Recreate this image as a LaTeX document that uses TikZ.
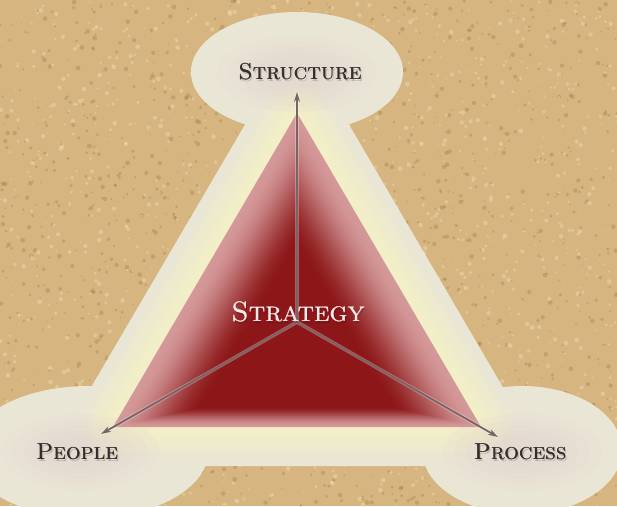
\documentclass[tikz,border=0pt]{standalone}
\usetikzlibrary{arrows.meta,calc}
\definecolor{cork}{RGB}{214,181,128}
\definecolor{corkdark}{RGB}{150,110,60}
\definecolor{corklight}{RGB}{240,222,175}
\definecolor{cream}{RGB}{233,230,214}
\definecolor{glow}{RGB}{248,244,196}
\definecolor{blush}{RGB}{228,212,206}
\definecolor{rose}{RGB}{212,152,152}
\definecolor{wine}{RGB}{140,22,24}
\definecolor{ink}{RGB}{52,46,46}
\definecolor{arrowgray}{RGB}{118,100,102}
\definecolor{stratwhite}{RGB}{244,232,232}
\begin{document}
\begin{tikzpicture}[x=1pt,y=-1pt,
  labeltext/.style={font=\fontsize{23}{27}\selectfont\scshape, text=ink},
  bigtext/.style={font=\fontsize{28}{32}\selectfont\scshape, text=stratwhite},
  shadowtext/.style={font=\fontsize{23}{27}\selectfont\scshape, text=ink, opacity=0.25},
  arrowline/.style={draw=arrowgray, line width=1.8, -{Stealth[length=10,width=6]}},
  arrowhalo/.style={draw=white, opacity=0.3, line width=3.6},
  blob/.style={fill=cream}]
\useasboundingbox (0,0) rectangle (617,506);
\fill[cork] (0,0) rectangle (617,506);
\begin{scope}
\clip (0,0) rectangle (617,506);
\pgfmathsetseed{7}
\foreach \i in {1,...,1400}{
  \pgfmathsetmacro{\xx}{rnd*617}
  \pgfmathsetmacro{\yy}{rnd*506}
  \pgfmathsetmacro{\rr}{0.6+rnd*1.8}
  \fill[corkdark, opacity=0.3] (\xx,\yy) circle[radius=\rr];
}
\foreach \i in {1,...,1400}{
  \pgfmathsetmacro{\xx}{rnd*617}
  \pgfmathsetmacro{\yy}{rnd*506}
  \pgfmathsetmacro{\rr}{0.6+rnd*1.8}
  \fill[corklight, opacity=0.45] (\xx,\yy) circle[radius=\rr];
}
\end{scope}
% triangle corners and hub
\coordinate (A) at (297,113);
\coordinate (B) at (113,427);
\coordinate (C) at (481,427);
\coordinate (O) at (297,385);
\coordinate (hub) at (297,322);
\coordinate (tS) at (297,92);
\coordinate (tL) at (101,434);
\coordinate (tR) at (498,437);
% halo
\fill[blob] (297,72) ellipse[x radius=106, y radius=60];
\fill[blob] (88,452) ellipse[x radius=120, y radius=66];
\fill[blob] (522,450) ellipse[x radius=100, y radius=64];
\draw[cream, fill=cream, line width=78, line join=round] (A)--(B)--(C)--cycle;
\foreach \w in {60,50,40,32,24,16}{
  \draw[glow, opacity=0.18, line width=\w, line join=round] (A)--(B)--(C)--cycle;
}
\foreach \p in {(297,74),(80,452),(522,452)}{
  \foreach \r in {1.0,0.85,0.7,0.55,0.4}{
    \fill[blush, opacity=0.16] \p ellipse[x radius=80*\r, y radius=38*\r];
  }
}
% shaded triangle
\foreach \k in {0,...,60}{
  \pgfmathsetmacro{\t}{\k/60*0.8}
  \pgfmathsetmacro{\s}{min(1,\t/0.5)}
  \pgfmathsetmacro{\m}{100*\s*\s*(3-2*\s)}
  \fill[wine!\m!rose] ($(A)!\t!(O)$) -- ($(B)!\t!(O)$) -- ($(C)!\t!(O)$) -- cycle;
}
% arrows
\draw[arrowhalo] (hub) -- (tS);
\draw[arrowhalo] (hub) -- (tL);
\draw[arrowhalo] (hub) -- (tR);
\draw[arrowline] (hub) -- (tS);
\draw[arrowline] (hub) -- (tL);
\draw[arrowline] (hub) -- (tR);
% labels (shadow, then doubled text for weight)
\node[shadowtext] at (301.5,73.5) {Structure};
\node[shadowtext] at (78.5,453.5) {People};
\node[shadowtext] at (521.5,453.5) {Process};
\node[labeltext] at (300.4,72) {Structure};
\node[labeltext] at (77.4,452) {People};
\node[labeltext] at (520.4,452) {Process};
\node[labeltext] (structure) at (300,72) {Structure};
\node[labeltext] (people) at (77,452) {People};
\node[labeltext] (process) at (520,452) {Process};
\node[bigtext, text=black, opacity=0.2] at (299.5,313.5) {Strategy};
\node[bigtext] at (298.5,312) {Strategy};
\node[bigtext] (strategy) at (298,312) {Strategy};
\end{tikzpicture}
\end{document}
